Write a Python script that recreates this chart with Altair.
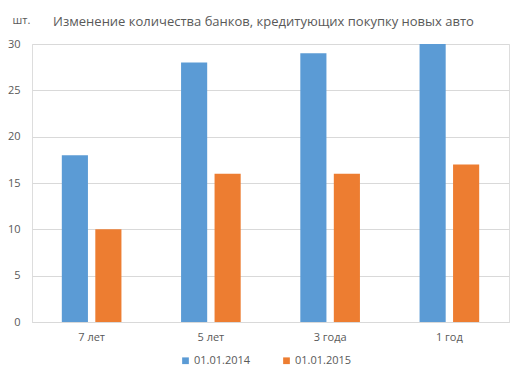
import altair as alt
import pandas as pd

categories = ["7 лет", "5 лет", "3 года", "1 год"]
series = ["01.01.2014", "01.01.2015"]
values_2014 = [18, 28, 29, 30]
values_2015 = [10, 16, 16, 17]
colors = ["#5b9bd5", "#ed7d31"]

rows = []
for c, v in zip(categories, values_2014):
    rows.append({"cat": c, "series": series[0], "value": v})
for c, v in zip(categories, values_2015):
    rows.append({"cat": c, "series": series[1], "value": v})
df = pd.DataFrame(rows)

FONT = "Open Sans"
GRAY = "#595959"

chart = alt.Chart(df).mark_bar().encode(
    x=alt.X("cat:N", sort=categories, title=None,
            scale=alt.Scale(paddingInner=0.5, paddingOuter=0.25),
            axis=alt.Axis(labelAngle=0, ticks=False, domainColor="#d9d9d9",
                          labelColor=GRAY, labelFont=FONT, labelFontSize=11,
                          labelPadding=9)),
    xOffset=alt.XOffset("series:N", sort=series,
                        scale=alt.Scale(paddingInner=0.22)),
    y=alt.Y("value:Q", scale=alt.Scale(domain=[0, 30]), title="шт.",
            axis=alt.Axis(values=[0, 5, 10, 15, 20, 25, 30], ticks=False, domain=False,
                          gridColor="#d9d9d9", labelColor=GRAY, labelFont=FONT,
                          labelFontSize=11, labelPadding=12,
                          titleAngle=0, titleX=-20, titleY=-24, titleAlign="left",
                          titleBaseline="middle", titleFont=FONT, titleFontSize=11,
                          titleFontWeight="normal", titleColor=GRAY)),
    color=alt.Color("series:N", sort=series,
                    scale=alt.Scale(domain=series, range=colors),
                    legend=alt.Legend(title=None, orient="none", direction="horizontal",
                                      legendX=148, legendY=311, symbolType="square",
                                      symbolSize=45, labelFont=FONT, labelFontSize=11,
                                      labelColor=GRAY, columnPadding=30, labelOffset=3)),
).properties(
    width=477,
    height=278,
    title=alt.Title("Изменение количества банков, кредитующих покупку новых авто",
                    font=FONT, fontSize=13, fontWeight="normal", color=GRAY,
                    anchor="middle", offset=10, dy=25, dx=-7),
    autosize=alt.AutoSizeParams(type="none"),
    padding={"left": 24, "top": 36, "right": 4, "bottom": 46},
).configure_view(stroke=None).configure(background="white")

chart.save("out.html", embed_options={"renderer": "svg", "actions": False})
